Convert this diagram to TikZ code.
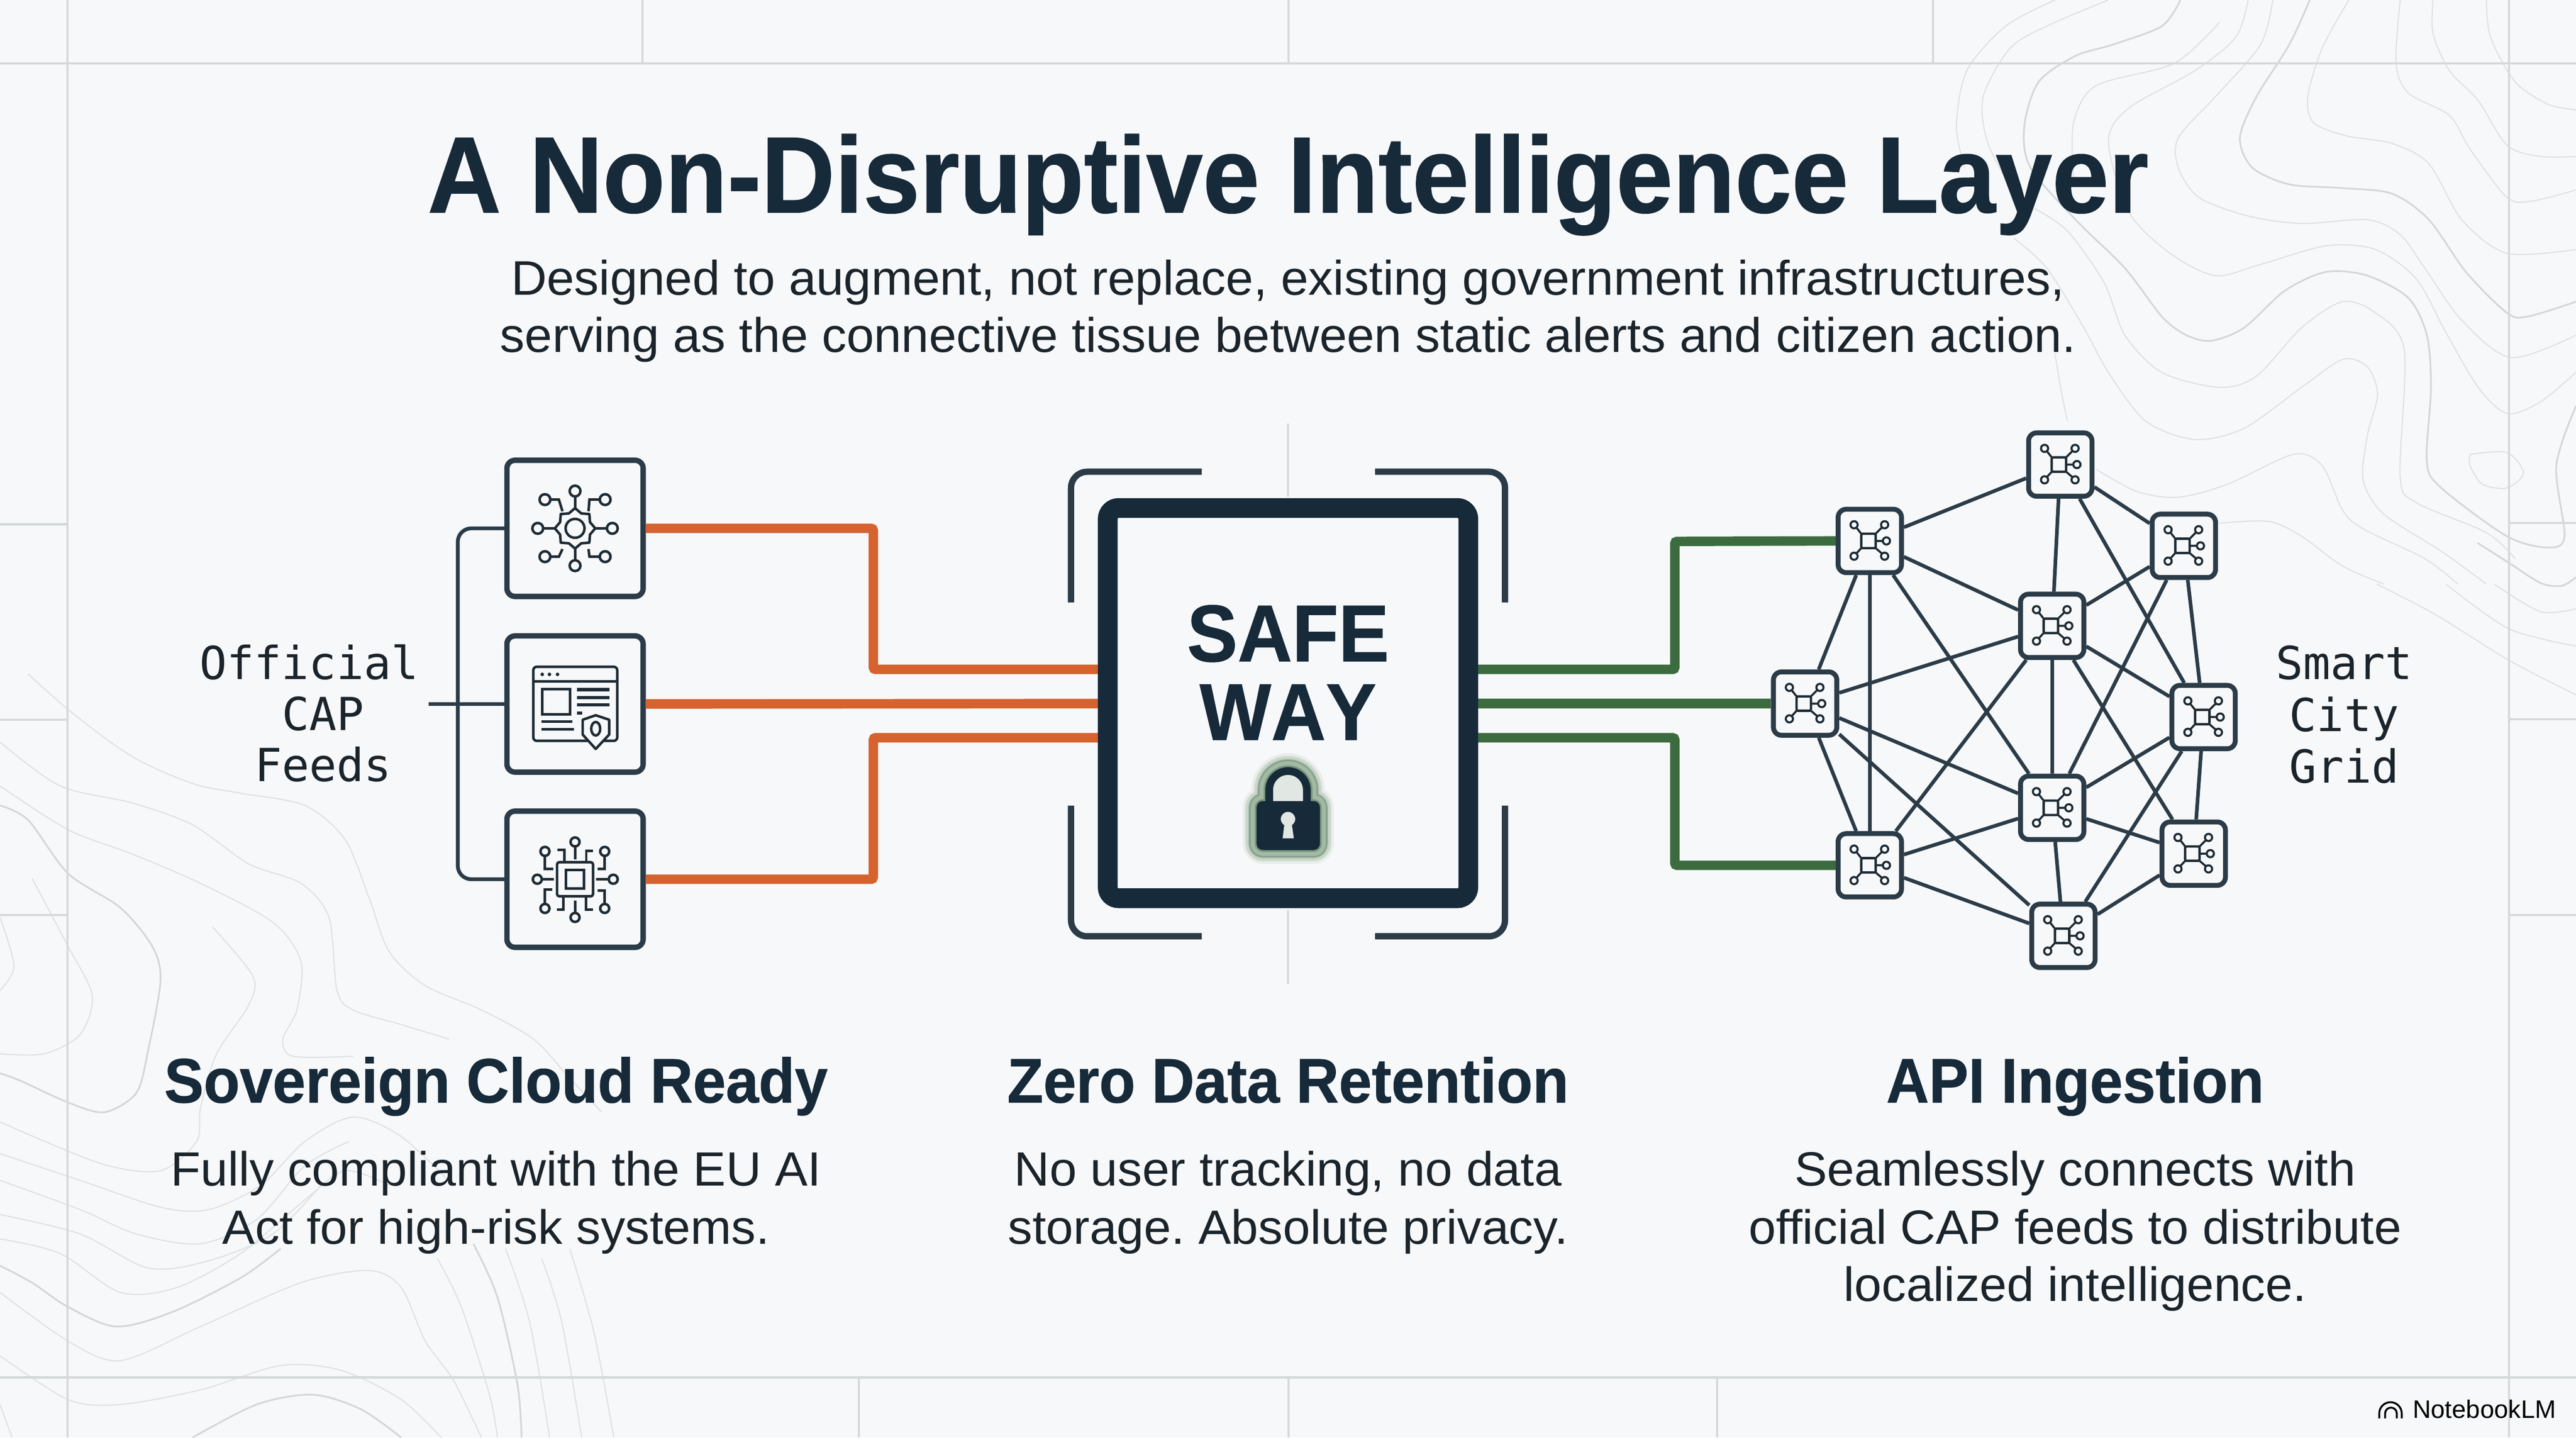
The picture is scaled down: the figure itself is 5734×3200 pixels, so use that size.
\documentclass[tikz,border=0pt]{standalone}
\usepackage{fontspec}
\setmainfont{Liberation Sans}
\setmonofont{DejaVu Sans Mono}
\newfontfamily\headfont[FakeStretch=0.94, BoldFeatures={FakeBold=0.7}]{Liberation Sans}
\newfontfamily\copyfont[FakeStretch=1.02]{Liberation Sans}
\frenchspacing
\definecolor{paper}{HTML}{F7F8F9}
\definecolor{gridgrey}{HTML}{D5D9DC}
\definecolor{isogrey}{HTML}{DDE1E3}
\definecolor{inkblue}{HTML}{172A3A}
\definecolor{inkbody}{HTML}{1B242B}
\definecolor{wire}{HTML}{2B3C48}
\definecolor{glyphink}{HTML}{1E2B34}
\definecolor{feedorange}{HTML}{D6622F}
\definecolor{gridgreen}{HTML}{3D6B40}
\tikzset{
  frameline/.style={gridgrey, line width=1.4pt},
  isoline/.style={isogrey, line width=0.7pt},
  isobold/.style={isogrey!90!gray, line width=1.1pt},
  glyph/.style={glyphink, line width=1.6pt},
  feedbox/.style={draw=wire, fill=paper, line width=3.4pt, rounded corners=0.18cm, minimum size=3.03cm},
  hubbox/.style={draw=wire, fill=paper, line width=3.1pt, rounded corners=0.18cm, minimum size=1.41cm},
  corebox/.style={draw=inkblue, fill=paper, line width=12.5pt, rounded corners=0.24cm, minimum width=8.02cm, minimum height=8.68cm},
  bracket/.style={wire, line width=4pt, rounded corners=0.36cm},
  rail/.style={wire, line width=2.4pt, rounded corners=0.3cm},
  feedwire/.style={feedorange, line width=6pt, rounded corners=0.05cm},
  gridwire/.style={gridgreen, line width=6pt, rounded corners=0.05cm},
  mesh/.style={wire, line width=2.3pt},
  titletext/.style={anchor=base, text=inkblue, font=\headfont\bfseries\fontsize{68.6}{80}\selectfont},
  coretext/.style={anchor=base, text=inkblue, font=\headfont\bfseries\fontsize{51}{60}\selectfont\addfontfeature{Kerning=Off}},
  headtext/.style={anchor=base, text=inkblue, font=\headfont\bfseries\fontsize{39.8}{48}\selectfont},
  subtext/.style={anchor=base, align=center, text=inkbody, font=\copyfont\fontsize{30.7}{36.4}\selectfont},
  copytext/.style={anchor=base, align=center, text=inkbody, font=\copyfont\fontsize{30.4}{36.4}\selectfont},
  sidetext/.style={anchor=base, align=center, text=inkbody, font=\ttfamily\fontsize{28.8}{32.7}\selectfont},
  gearicon/.pic={
    \draw[glyph, line join=round] (0:45) -- (22.5:36) -- (45:45) -- (67.5:36) -- (90:45) -- (112.5:36) -- (135:45) -- (157.5:36) -- (180:45) -- (202.5:36) -- (225:45) -- (247.5:36) -- (270:45) -- (292.5:36) -- (315:45) -- (337.5:36) -- cycle;
    \draw[glyph] (0,0) circle (21);
    \draw[glyph] (0,-83) circle (12) (0,83) circle (12) (-83,0) circle (12) (83,0) circle (12);
    \draw[glyph] (-67,-64) circle (12) (67,-64) circle (12) (-67,63) circle (12) (67,63) circle (12);
    \draw[glyph] (0,-71) -- (0,-45) (0,71) -- (0,45) (-71,0) -- (-45,0) (71,0) -- (45,0);
    \draw[glyph] (-55,-64) -- (-36,-64) -- (-28,-38) (55,-64) -- (32,-64) -- (30,-38);
    \draw[glyph] (-55,63) -- (-36,63) -- (-28,46) (55,63) -- (32,63) -- (30,46);
  },
  pageicon/.pic={
    \draw[glyph, rounded corners=0.08cm] (-93,-83) rectangle (94,82);
    \draw[glyph] (-93,-50) -- (94,-50);
    \fill[glyphink] (-73,-66) circle (4) (-57,-66) circle (4) (-39,-66) circle (4);
    \draw[glyph] (-73,-33) rectangle (-11,23);
    \draw[glyph, line width=2pt] (4,-32) -- (77,-32) (4,-14) -- (77,-14) (4,2) -- (77,2) (4,20) -- (16,20);
    \draw[glyph] (-75,39) -- (-6,39) (-75,56) -- (-3,56);
    \draw[glyph, fill=paper, line join=round] (46,25) -- (17,35) -- (17,68) -- (46,100) -- (76,68) -- (76,35) -- cycle;
    \draw[glyph] (46,55) ellipse (10 and 15);
  },
  chipicon/.pic={
    \draw[glyph, rounded corners=0.05cm] (-40,-38) rectangle (40,38);
    \draw[glyph] (-20,-21) rectangle (20,21);
    \draw[glyph] (0,-83) circle (10) (0,85) circle (10) (-84,0) circle (10) (85,0) circle (10);
    \draw[glyph] (-67,-62) circle (10) (66,-62) circle (10) (-67,65) circle (10) (66,65) circle (10);
    \draw[glyph] (0,-73) -- (0,-44) (0,75) -- (0,48) (-74,0) -- (-47,0) (75,0) -- (47,0);
    \draw[glyph] (-67,-52) -- (-67,-23) -- (-48,-23) (66,-52) -- (66,-23) -- (50,-23);
    \draw[glyph] (-67,55) -- (-67,23) -- (-51,23) (66,55) -- (66,25) -- (50,25);
    \draw[glyph] (-24,-38) -- (-24,-65) -- (-39,-65) (25,-38) -- (25,-63) -- (40,-63);
    \draw[glyph] (-26,40) -- (-26,68) -- (-40,68) (24,40) -- (24,68) -- (40,68);
  },
  hubicon/.pic={
    \draw[glyph, line width=1.5pt, rounded corners=0.03cm] (-19,-16) rectangle (13,16);
    \draw[glyph, line width=1.3pt] (-35,-36) circle (8) (33,-36) circle (8) (37,0) circle (8) (-35,34) circle (8) (33,34) circle (8);
    \draw[glyph, line width=1.3pt] (-19,-16) -- (-30,-30) (13,-16) -- (27,-30) (13,0) -- (29,0) (-19,16) -- (-30,28) (13,16) -- (27,28);
  },
}
\newcommand{\iso}[2][isoline]{\draw[#1] plot[smooth] coordinates {#2};}
\newcommand{\lockhalo}[2]{%
  \draw[#2, line width=#1*0.01cm, rounded corners=0.14cm, line join=round] (2797,1783) rectangle (2938,1892);
  \draw[#2, line width=(#1+17)*0.01cm] (2825,1790) -- (2825,1758) arc[start angle=180, end angle=360, radius=42] -- (2909,1790);}
\begin{document}
\begin{tikzpicture}[x=0.01cm, y=-0.01cm]
  \useasboundingbox (0,0) rectangle (5734,3200);
  \fill[paper] (0,0) rectangle (5734,3200);

  % Contour lines, upper right
  \begin{scope}[shift={(4300,0)}, xscale=0.9145, yscale=0.829]
    \iso[isobold]{(920,0) (870,120) (790,260) (750,370) (780,450) (870,495) (1000,505) (1120,520) (1210,590) (1300,730) (1400,840) (1450,850) (1568,810)}
    \iso{(1015,0) (950,130) (915,260) (930,330) (1010,365) (1120,385) (1210,440) (1290,590) (1400,680) (1568,670)}
    \iso{(1140,0) (1130,170) (1160,250) (1260,310) (1310,400) (1400,530) (1460,540) (1568,510)}
    \iso{(1220,0) (1220,90) (1260,190) (1330,270) (1400,390) (1480,420) (1568,420)}
    \iso{(1350,0) (1360,100) (1420,220) (1500,280) (1568,295)}
    \iso{(830,0) (800,120) (690,260) (600,370) (600,450) (650,530) (770,580) (900,600) (1060,590) (1140,630) (1200,720) (1290,860) (1410,960) (1568,900)}
    \iso{(770,0) (740,100) (640,190) (480,290) (430,380) (480,570) (580,680) (690,740) (800,710) (960,660) (1080,670) (1180,750) (1250,890) (1330,1040) (1400,1110) (1480,1080) (1568,1000)}
    \iso[isobold]{(605,0) (560,70) (440,120) (350,150) (260,220) (225,340) (240,450) (350,590) (470,720) (560,850) (620,900) (680,915) (760,880) (860,780) (960,730) (1060,740) (1160,800) (1205,900) (1215,1040) (1205,1240) (1240,1310) (1400,1440) (1500,1470) (1540,1440) (1520,1250) (1568,1090)}
    \iso{(430,0) (280,70) (190,130) (125,260) (135,380) (190,500)}
    \iso{(300,0) (180,70) (85,190) (60,340) (80,450)}
    \iso{(700,60) (590,170) (400,230) (345,330) (345,480)}
    \iso{(250,560) (330,620) (420,760) (470,900) (560,1000) (700,1040) (790,1010) (900,880) (1000,810) (1080,840) (1150,940) (1140,1280) (1180,1350) (1350,1430) (1420,1500)}
    \iso{(200,640) (280,720) (370,880) (430,1000) (520,1130) (640,1180) (760,1150) (900,1040) (1000,965) (1060,985) (1085,1060) (1060,1170) (1050,1290) (1100,1380) (1240,1480) (1350,1568)}
    \iso{(400,1260) (500,1320) (600,1335) (720,1300) (880,1220) (950,1250) (1000,1370) (1050,1420) (1200,1500) (1280,1568)}
    \iso{(700,1405) (820,1400) (900,1440) (1000,1520) (1100,1568)}
    \iso{(1310,1220) (1400,1215) (1440,1270) (1400,1310) (1340,1300) (1310,1250) (1310,1220)}
    \iso{(300,950) (315,1050) (330,1130)}
  \end{scope}

  % Contour lines, far right
  \begin{scope}[shift={(5000,1100)}, xscale=0.468, yscale=1.2755]
    \iso{(620,157) (900,210) (1250,290) (1568,350)}
    \iso{(950,157) (1250,235) (1568,265)}
    \iso{(1180,157) (1400,205) (1568,200)}
    \iso[isobold]{(1100,85) (1250,120) (1400,155) (1500,160) (1568,145)}
  \end{scope}

  % Contour lines, lower left
  \begin{scope}[shift={(0,1500)}, xscale=0.893, yscale=1.084]
    \iso{(70,0) (180,80) (330,170) (480,225) (600,245) (760,270) (860,340) (920,460) (970,570) (1060,640) (1200,690) (1330,750) (1420,830) (1500,900)}
    \iso{(0,140) (150,230) (330,265) (480,310) (620,390) (750,430) (820,500) (840,650) (880,690) (1000,720) (1120,750)}
    \iso[isobold]{(0,270) (70,300) (170,410) (300,480) (380,560) (400,630) (370,770) (340,860) (260,900) (170,880) (50,835) (0,820)}
    \iso{(0,230) (170,320) (330,370) (500,430) (680,510) (750,590) (740,690) (705,750) (730,785) (880,785)}
    \iso{(80,420) (170,560) (230,660) (200,740) (110,780) (0,780)}
    \iso{(0,500) (35,600) (0,650)}
    \iso{(530,520) (630,620) (620,680) (540,780) (500,890) (490,960) (400,1020) (250,1005) (0,920)}
    \iso{(0,985) (200,1040) (400,1095) (520,1100) (650,1050) (760,960) (880,910) (1000,950) (1130,1050)}
    \iso{(0,1040) (200,1100) (340,1150) (500,1170) (640,1120) (760,1010) (870,960)}
    \iso{(0,1110) (200,1150) (370,1220) (520,1205) (680,1150) (800,1050)}
    \iso[isobold]{(0,1215) (80,1250) (170,1300) (290,1340) (430,1310) (600,1240) (700,1180)}
    \iso{(0,1160) (150,1190) (300,1270) (440,1260) (600,1190) (760,1080) (860,1020) (970,1050)}
    \iso{(0,1270) (170,1370) (300,1410) (500,1340) (750,1250) (920,1225) (1000,1260) (1060,1370) (1130,1450) (1200,1568)}
    \iso{(1090,1200) (1150,1300) (1220,1480) (1240,1568)}
    \iso[isobold]{(1180,1170) (1240,1280) (1290,1460) (1300,1568)}
    \iso{(1260,1180) (1320,1330) (1370,1568)}
    \iso{(1350,1200) (1400,1330) (1450,1568)}
    \iso{(1420,1180) (1480,1350) (1530,1568)}
    \iso{(0,1400) (170,1490) (300,1500) (500,1470) (700,1420) (850,1430) (1000,1490) (1100,1568)}
    \iso[isobold]{(480,1568) (640,1500) (780,1480) (900,1510) (1000,1568)}
    \iso{(0,1500) (30,1568)}
  \end{scope}

  % Frame lines
  \draw[frameline] (0,141) -- (5734,141) (0,3066) -- (5734,3066);
  \draw[frameline] (150,0) -- (150,3200) (5585,0) -- (5585,3200);
  \draw[frameline] (1430,0) -- (1430,141) (2868,0) -- (2868,141) (4303,0) -- (4303,141);
  \draw[frameline] (1912,3066) -- (1912,3200) (2868,3066) -- (2868,3200) (3822,3066) -- (3822,3200);
  \draw[frameline] (0,1167) -- (150,1167) (0,1602) -- (150,1602) (0,2037) -- (150,2037);
  \draw[frameline] (5585,1164) -- (5734,1164) (5585,1601) -- (5734,1601) (5585,2037) -- (5734,2037);
  \draw[frameline] (2867,943) -- (2867,1105) (2867,2025) -- (2867,2190);

  % Title and subtitle
  \node[titletext] (title) at (2867,473) {A Non-Disruptive Intelligence Layer};
  \node[subtext] (subA) at (2867,656) {Designed to augment, not replace, existing government infrastructures,};
  \node[subtext] (subB) at (2867,784) {serving as the connective tissue between static alerts and citizen action.};

  % Feeds on the left
  \node[feedbox] (feedA) at (1280,1176) {};
  \node[feedbox] (feedB) at (1280,1567) {};
  \node[feedbox] (feedC) at (1280,1957) {};
  \pic at (feedA) {gearicon};
  \pic at (feedB) {pageicon};
  \pic at (feedC) {chipicon};
  \node[sidetext] (sideA) at (688,1512) {Official};
  \node[sidetext] (sideB) at (719,1626) {CAP};
  \node[sidetext] (sideC) at (719,1739) {Feeds};
  \coordinate (stub) at (954,1567);
  \draw[rail] (feedA.west) -- (1019,1176) -- (1019,1957) -- (feedC.west);
  \draw[rail, rounded corners=0pt] (stub) -- (feedB.west);

  % Safe box
  \node[corebox] (safe) at (2867,1565) {};
  \draw[bracket] (2384,1341) -- (2384,1050) -- (2675,1050);
  \draw[bracket] (3061,1050) -- (3350,1050) -- (3350,1341);
  \draw[bracket] (2384,1793) -- (2384,2084) -- (2675,2084);
  \draw[bracket] (3061,2084) -- (3350,2084) -- (3350,1793);
  \node[coretext] (safeA) at (2867,1472) {SAFE};
  \node[coretext] (safeB) at (2867,1647) {WAY};

  % Lock
  \lockhalo{62}{paper!75!gridgreen!40}
  \lockhalo{50}{paper!55!gridgreen!55}
  \lockhalo{40}{gridgreen!30!paper}
  \lockhalo{34}{gridgreen!60!paper}
  \lockhalo{26}{gridgreen!45!paper}
  \lockhalo{8}{gridgreen!70!paper}
  \fill[gridgreen!12!paper] (2834,1790) -- (2834,1758) arc[start angle=180, end angle=360, radius=33] -- (2900,1790) -- cycle;
  \draw[inkblue, line width=4.8pt] (2825,1790) -- (2825,1758) arc[start angle=180, end angle=360, radius=42] -- (2909,1790);
  \fill[inkblue, rounded corners=0.14cm] (2797,1783) rectangle (2938,1892);
  \fill[gridgreen!12!paper] (2867,1823) circle (16);
  \fill[gridgreen!12!paper] (2860,1825) -- (2874,1825) -- (2880,1866) -- (2855,1866) -- cycle;

  % Hubs on the right
  \node[hubbox] (hubTop) at (4586,1034) {};
  \node[hubbox] (hubUL) at (4162,1204) {};
  \node[hubbox] (hubUR) at (4861,1215) {};
  \node[hubbox] (hubMidT) at (4568,1393) {};
  \node[hubbox] (hubLeft) at (4018,1566) {};
  \node[hubbox] (hubRight) at (4905,1596) {};
  \node[hubbox] (hubMidB) at (4568,1798) {};
  \node[hubbox] (hubLL) at (4162,1926) {};
  \node[hubbox] (hubLR) at (4883,1900) {};
  \node[hubbox] (hubBot) at (4593,2083) {};
  \draw[mesh] (hubTop) -- (hubUL) (hubTop) -- (hubUR) (hubTop) -- (hubMidT) (hubTop) -- (hubRight);
  \draw[mesh] (hubUL) -- (hubMidT) (hubUL) -- (hubLeft) (hubUL) -- (hubLL) (hubUL) -- (hubMidB);
  \draw[mesh] (hubUR) -- (hubMidT) (hubUR) -- (hubRight) (hubUR) -- (hubMidB);
  \draw[mesh] (hubMidT) -- (hubLeft) (hubMidT) -- (hubRight) (hubMidT) -- (hubMidB) (hubMidT) -- (hubLL) (hubMidT) -- (hubLR);
  \draw[mesh] (hubLeft) -- (hubMidB) (hubLeft) -- (hubLL) (hubLeft) -- (hubBot);
  \draw[mesh] (hubRight) -- (hubMidB) (hubRight) -- (hubLR) (hubRight) -- (hubBot);
  \draw[mesh] (hubMidB) -- (hubLL) (hubMidB) -- (hubLR) (hubMidB) -- (hubBot);
  \draw[mesh] (hubLL) -- (hubBot) (hubLR) -- (hubBot);
  \pic at (hubTop) {hubicon};
  \pic at (hubUL) {hubicon};
  \pic at (hubUR) {hubicon};
  \pic at (hubMidT) {hubicon};
  \pic at (hubLeft) {hubicon};
  \pic at (hubRight) {hubicon};
  \pic at (hubMidB) {hubicon};
  \pic at (hubLL) {hubicon};
  \pic at (hubLR) {hubicon};
  \pic at (hubBot) {hubicon};
  \node[sidetext, anchor=north] (sideGrid) at (5218,1425) {Smart\\City\\Grid};

  % Wires
  \draw[feedwire] (feedA.east) -- (1944,1176) -- (1944,1490) -- (safe.west |- 0,1490);
  \draw[feedwire] (feedB.east) -- (safe.west |- 0,1566);
  \draw[feedwire] (feedC.east) -- (1944,1957) -- (1944,1642) -- (safe.west |- 0,1642);
  \draw[gridwire] (safe.east |- 0,1490) -- (3728,1490) -- (3728,1205) -- (hubUL.west);
  \draw[gridwire] (safe.east |- 0,1566) -- (hubLeft.west);
  \draw[gridwire] (safe.east |- 0,1642) -- (3728,1642) -- (3728,1926) -- (hubLL.west);

  % Columns at the bottom
  \node[headtext] (headA) at (1104,2454) {Sovereign Cloud Ready};
  \node[headtext] (headB) at (2867,2454) {Zero Data Retention};
  \node[headtext] (headC) at (4619,2454) {API Ingestion};
  \node[copytext] (copyA) at (1104,2639) {Fully compliant with the EU AI};
  \node[copytext] (copyB) at (1104,2769) {Act for high-risk systems.};
  \node[copytext] (copyC) at (2867,2639) {No user tracking, no data};
  \node[copytext] (copyD) at (2867,2769) {storage. Absolute privacy.};
  \node[copytext] (copyE) at (4619,2639) {Seamlessly connects with};
  \node[copytext] (copyF) at (4619,2769) {official CAP feeds to distribute};
  \node[copytext] (copyG) at (4619,2896) {localized intelligence.};

  % Corner mark
  \node[anchor=base west, inner sep=0pt, text=black, font=\fontsize{16}{18}\selectfont] (mark) at (5370,3157) {NotebookLM};
  \draw[black, line width=1.2pt] (5296,3157) -- (5296,3146) arc[start angle=180, end angle=360, radius=25] -- (5346,3157);
  \draw[black, line width=1.2pt] (5309,3157) -- (5309,3146) arc[start angle=180, end angle=360, radius=13] -- (5335,3157);
\end{tikzpicture}
\end{document}
